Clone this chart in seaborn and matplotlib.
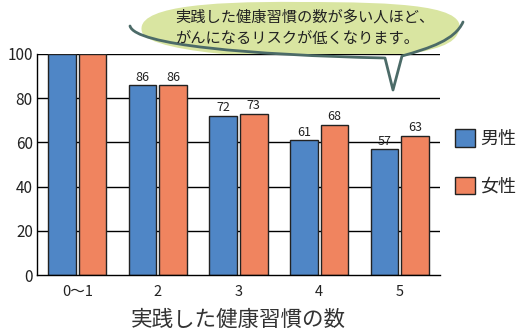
import matplotlib
matplotlib.use("Agg")
import matplotlib.pyplot as plt
import seaborn as sns
import pandas as pd
from matplotlib.path import Path
from matplotlib.patches import PathPatch, Patch

categories = ["0〜1", "2", "3", "4", "5"]
male = [100, 86, 72, 61, 57]
female = [100, 86, 73, 68, 63]
series_names = ["男性", "女性"]
colors = ["#4F86C6", "#F0845F"]
yticks = [0, 20, 40, 60, 80, 100]
xlabel = "実践した健康習慣の数"
bubble_lines = ["実践した健康習慣の数が多い人ほど、", "がんになるリスクが低くなります。"]

sns.set_style("white")
plt.rcParams['font.family'] = ['Noto Sans CJK JP', 'DejaVu Sans']

df = pd.DataFrame({
    "cat": categories * 2,
    "val": male + female,
    "sex": [series_names[0]] * len(categories) + [series_names[1]] * len(categories),
})

fig = plt.figure(figsize=(5.16, 3.36), dpi=100)
ax = fig.add_axes([37/516, 1-275/336, 403/516, 221/336])

for y in yticks[1:]:
    ax.axhline(y, color="black", lw=1, zorder=0)

sns.barplot(data=df, x="cat", y="val", hue="sex", palette=colors, ax=ax,
            width=0.76, gap=0.1, edgecolor="#222222", linewidth=1.0,
            saturation=1, legend=False, zorder=2)

for cont, vals in zip(ax.containers, [male, female]):
    labels = [("" if v >= 100 else str(v)) for v in vals]
    ax.bar_label(cont, labels=labels, padding=1, fontsize=9, color="#222222")

ax.set_ylim(0, 100)
ax.set_xlim(-0.5, 4.5)
ax.set_yticks(yticks)
ax.set_yticklabels([str(v) for v in yticks], fontsize=11, color="#222222")
ax.set_xticklabels(categories, fontsize=10.5, color="#222222")
ax.tick_params(axis="y", which="major", length=0, pad=3)
ax.tick_params(axis="x", which="major", length=0, pad=7)
ax.set_xticks([0.5, 1.5, 2.5, 3.5, 4.5], minor=True)
ax.tick_params(axis="x", which="minor", direction="in", length=5, width=1, color="black")
ax.set_xlabel(xlabel, fontsize=15.5, color="#333333", labelpad=7)
ax.set_ylabel("")
for s in ["top", "right"]:
    ax.spines[s].set_visible(False)
for s in ["left", "bottom"]:
    ax.spines[s].set_color("black")
    ax.spines[s].set_linewidth(1)

handles = [Patch(facecolor=c, edgecolor="#222222", lw=1) for c in colors]
leg = fig.legend(handles, series_names, loc="upper left", bbox_to_anchor=(448/516, 1-122/336),
                 frameon=False, fontsize=13, handlelength=1.1, handleheight=1.1,
                 handletextpad=0.3, labelspacing=1.6, borderaxespad=0)

# speech bubble overlay
ov = fig.add_axes([0, 0, 1, 1], zorder=-1)
ov.set_xlim(0, 516)
ov.set_ylim(336, 0)
ov.axis("off")
fill_verts = [(142, 32),
              (135, 8), (200, 1), (300, 2),
              (400, 2), (475, 5), (457, 35),
              (450, 48), (420, 52), (400, 56),
              (393, 88),
              (385, 58),
              (300, 62), (150, 55), (142, 32),
              (142, 32)]
fill_codes = [Path.MOVETO,
              Path.CURVE4, Path.CURVE4, Path.CURVE4,
              Path.CURVE4, Path.CURVE4, Path.CURVE4,
              Path.CURVE4, Path.CURVE4, Path.CURVE4,
              Path.LINETO, Path.LINETO,
              Path.CURVE4, Path.CURVE4, Path.CURVE4,
              Path.CLOSEPOLY]
ov.add_patch(PathPatch(Path(fill_verts, fill_codes), facecolor="#D9E5A1", edgecolor="none"))

ov2 = fig.add_axes([0, 0, 1, 1], zorder=5)
ov2.set_xlim(0, 516)
ov2.set_ylim(336, 0)
ov2.axis("off")
ov2.patch.set_alpha(0)
line_verts = [(130, 26), (135, 45), (250, 55), (385, 58), (393, 90), (402, 56),
              (430, 48), (455, 40), (463, 22)]
line_codes = [Path.MOVETO, Path.CURVE4, Path.CURVE4, Path.CURVE4, Path.LINETO, Path.LINETO,
              Path.CURVE4, Path.CURVE4, Path.CURVE4]
ov2.add_patch(PathPatch(Path(line_verts, line_codes), facecolor="none", edgecolor="#4C6B68", lw=2,
                        capstyle="round", joinstyle="round"))
ov2.text(175, 17, bubble_lines[0], fontsize=11, color="#222222", ha="left", va="center")
ov2.text(175, 38, bubble_lines[1], fontsize=11, color="#222222", ha="left", va="center")

fig.savefig("out.png", dpi=100)
